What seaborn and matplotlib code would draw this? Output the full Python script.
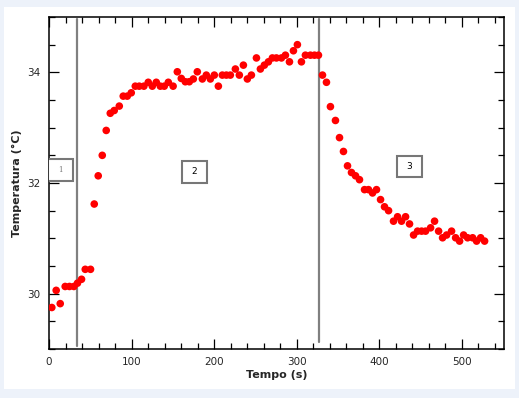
import numpy as np
import pandas as pd
import matplotlib
matplotlib.use('Agg')
import matplotlib.pyplot as plt
from matplotlib.patches import Rectangle
from matplotlib.ticker import MultipleLocator
import seaborn as sns

# time (s) and temperature (C)
tempo = [3.4, 8.7, 13.6, 19.6, 24.8, 30.1, 34.5, 39.4, 43.9, 50.3,
         54.8, 59.6, 64.5, 69.3, 74.2, 79.0, 85.1, 89.9, 94.8, 99.6,
         104.5, 109.3, 114.9, 120.2, 125.1, 129.9, 134.8, 139.6, 144.5, 150.3,
         155.4, 160.2, 165.1, 169.9, 174.8, 179.6, 185.7, 190.5, 195.4, 200.2,
         205.1, 209.9, 214.8, 219.6, 225.7, 230.5, 235.4, 240.2, 245.1, 251.2,
         256.0, 260.8, 265.7, 270.5, 275.4, 281.5, 286.3, 291.2, 296.0, 300.8,
         305.7, 310.5, 316.6, 321.5, 326.3, 331.2, 336.0, 340.8, 346.9, 351.8,
         356.6, 361.5, 366.3, 371.2, 376.0, 382.1, 386.9, 391.8, 396.6, 401.5,
         406.3, 411.2, 417.2, 422.1, 426.9, 431.8, 436.6, 441.5, 446.3, 451.2,
         456.0, 462.1, 466.9, 471.8, 476.6, 481.5, 487.5, 492.4, 497.2, 502.1,
         506.9, 513.0, 517.8, 522.7, 527.5]
temperatura = [29.75, 30.06, 29.82, 30.13, 30.13, 30.13, 30.19, 30.26, 30.44, 30.44,
               31.62, 32.13, 32.50, 32.95, 33.26, 33.31, 33.39, 33.57, 33.57, 33.63,
               33.75, 33.75, 33.75, 33.82, 33.75, 33.82, 33.75, 33.75, 33.82, 33.75,
               34.01, 33.89, 33.83, 33.83, 33.88, 34.01, 33.88, 33.95, 33.88, 33.95,
               33.75, 33.95, 33.95, 33.95, 34.06, 33.95, 34.13, 33.88, 33.95, 34.26,
               34.06, 34.13, 34.19, 34.26, 34.26, 34.26, 34.31, 34.19, 34.39, 34.50,
               34.19, 34.31, 34.31, 34.31, 34.31, 33.95, 33.82, 33.38, 33.13, 32.82,
               32.57, 32.31, 32.19, 32.13, 32.06, 31.88, 31.88, 31.82, 31.88, 31.70,
               31.57, 31.50, 31.31, 31.39, 31.31, 31.39, 31.26, 31.06, 31.13, 31.13,
               31.13, 31.19, 31.31, 31.13, 31.01, 31.06, 31.13, 31.01, 30.95, 31.06,
               31.01, 31.01, 30.95, 31.01, 30.95]

# phase separators and phase labels
divisores = [33.9, 326.5]
fases = ['1', '2', '3']
fase_x = [13.9, 176.0, 436.0]
fase_y = [32.24, 32.20, 32.30]

df = pd.DataFrame({'Tempo': tempo, 'Temperatura': temperatura})

sns.set_style('ticks')
plt.rcParams['font.family'] = ['DejaVu Sans']

fig = plt.figure(figsize=(5.19, 3.98), dpi=100)
fig.patch.set_facecolor('#edf2fa')
# white panel behind the plot
painel = Rectangle((4 / 519, 1 - 389 / 398), 511 / 519, 382 / 398,
                   transform=fig.transFigure, facecolor='white',
                   edgecolor='none', zorder=-10)
fig.add_artist(painel)
ax = fig.add_axes([49 / 519, 1 - 349 / 398, 455 / 519, 332 / 398])
ax.set_zorder(1)
ax.set_facecolor('white')

sns.scatterplot(data=df, x='Tempo', y='Temperatura', color='#ff0000',
                s=30, edgecolor='none', ax=ax, zorder=3)

ax.plot([divisores[0], divisores[0]], [29.06, 34.97], color='#808080', lw=1.6, zorder=2)
ax.plot([divisores[1], divisores[1]], [29.13, 34.97], color='#808080', lw=1.6, zorder=2)

bw, bh = 30.2, 0.39
for i, (lab, bx, by) in enumerate(zip(fases, fase_x, fase_y)):
    ax.add_patch(Rectangle((bx - bw / 2, by - bh / 2), bw, bh, facecolor='white',
                           edgecolor='#777777', lw=1.5, zorder=4))
    ax.text(bx, by, lab, ha='center', va='center', zorder=5,
            fontsize=5 if i == 0 else 6.5,
            color='#777777' if i == 0 else 'black',
            family='DejaVu Serif' if i == 0 else 'DejaVu Sans')

ax.set_xlim(0, 551)
ax.set_ylim(29, 35)
ax.xaxis.set_major_locator(MultipleLocator(100))
ax.xaxis.set_minor_locator(MultipleLocator(20))
ax.yaxis.set_major_locator(MultipleLocator(2))
ax.yaxis.set_minor_locator(MultipleLocator(0.5))
ax.tick_params(which='both', direction='in', top=True, right=True,
               labelsize=7.5, width=0.9, color='black', pad=6)
ax.tick_params(which='major', length=7)
ax.tick_params(which='minor', length=4)
for sp in ax.spines.values():
    sp.set_visible(True)
    sp.set_linewidth(1.1)
    sp.set_color('black')

ax.set_xlabel('Tempo (s)', fontsize=8, fontweight='bold', labelpad=2)
ax.set_ylabel('Temperatura (°C)', fontsize=8, fontweight='bold', labelpad=4)

fig.savefig('out.png', dpi=100, facecolor=fig.get_facecolor())
